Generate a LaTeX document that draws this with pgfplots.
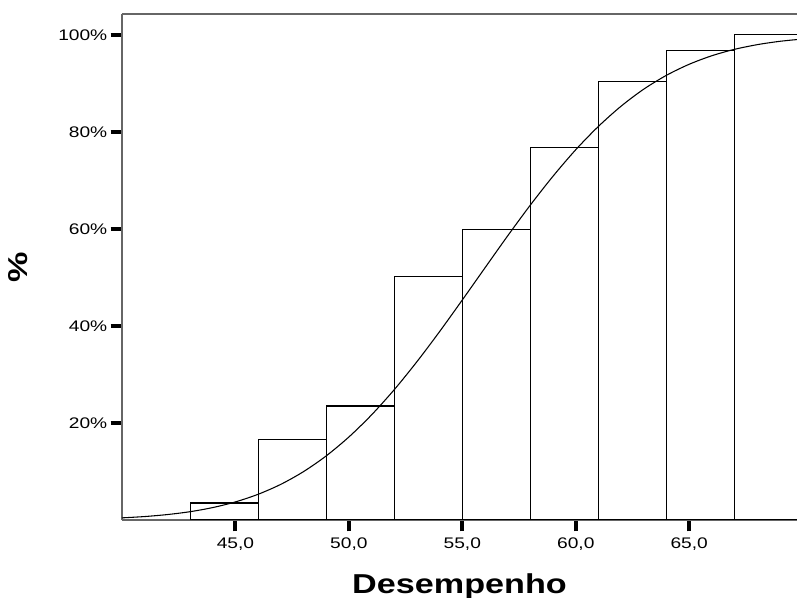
\documentclass[border=0pt]{standalone}
\usepackage{fontspec}
\setmainfont{Liberation Sans}
\newfontfamily\widefont[FakeStretch=1.25]{Liberation Sans}
\usepackage{pgfplots}
\pgfplotsset{compat=1.18}

\begin{document}
\begin{tikzpicture}
\begin{axis}[
    scale only axis,
    width=506.25pt,
    height=379.5pt,
    xmin=40, xmax=69.75,
    ymin=0, ymax=104.3,
    axis lines=left,
    axis line style={-, draw=black!60, line width=0.9pt},
    xtick={45,50,55,60,65},
    xticklabels={{45,0},{50,0},{55,0},{60,0},{65,0}},
    ytick={20,40,60,80,100},
    yticklabels={20\%,40\%,60\%,80\%,100\%},
    tick align=outside,
    major tick length=8.5pt,
    tick style={black, line width=3pt},
    ticklabel style={font=\widefont\fontsize{11.5}{13}\selectfont},
    xticklabel style={yshift=-1pt},
    yticklabel style={xshift=1pt},
    xlabel={Desempenho},
    ylabel={\%},
    label style={font=\widefont\bfseries\fontsize{20.5}{24}\selectfont},
    xlabel style={yshift=-11pt},
    ylabel style={yshift=16pt},
]
% cumulative percentages, bins of width 3
\addplot[ybar interval, draw=black, fill=none, line width=0.8pt] coordinates {
    (43,3.5) (46,16.6) (49,23.5) (52,50.2) (55,59.9)
    (58,76.7) (61,90.3) (64,96.7) (67,100) (70,100)
};
% normal curve
\addplot[black, line width=0.8pt, smooth] coordinates {
    (40,0.44) (41,0.71) (42,1.12) (43,1.71) (44,2.56) (45,3.73)
    (46,5.30) (47,7.35) (48,9.97) (49,13.21) (50,17.11) (51,21.67)
    (52,26.87) (53,32.64) (54,38.85) (55,45.36) (56,51.99) (57,58.58)
    (58,64.93) (59,70.88) (60,76.33) (61,81.14) (62,85.31) (63,88.82)
    (64,91.67) (65,93.94) (66,95.70) (67,97.02) (68,97.98) (69,98.67)
    (70,99.14)
};
\coordinate (bl) at (rel axis cs:0,0);
\coordinate (tl) at (rel axis cs:0,1);
\coordinate (tr) at (rel axis cs:1,1);
\end{axis}
\draw[black!60, line width=0.9pt] (tl) -- (tr);
\pgfresetboundingbox
\path ([xshift=-91.5pt,yshift=-58.5pt]bl) rectangle ([yshift=10.5pt]tr);
\end{tikzpicture}
\end{document}
